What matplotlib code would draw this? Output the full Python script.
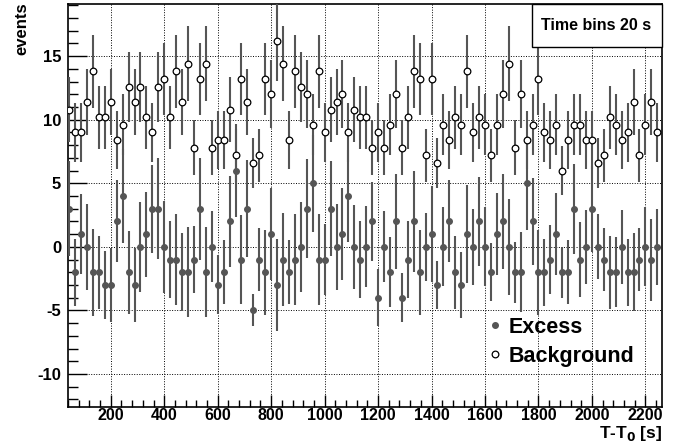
import numpy as np
import matplotlib
matplotlib.use("Agg")
import matplotlib.pyplot as plt
from matplotlib.ticker import MultipleLocator, FixedLocator
from matplotlib.lines import Line2D
from matplotlib.patches import Rectangle

plt.rcParams['font.family'] = ['Liberation Sans', 'DejaVu Sans']
plt.rcParams['axes.unicode_minus'] = False

# ---- data ----
excess = [3, -2, 1, 0, -2, -2, -3, -3, 2, 4, -2, -3, 0, 1, 3, 3, 0,
          -1, -1, -2, -2, -1, 3, -2, 0, -3, -2, 2, 6, -1, 3, -5, -1,
          -2, 1, -3, -1, -2, -1, 0, 3, 5, -1, -1, 3, 0, 1, 4, 0, -1,
          0, 2, -4, 0, -2, 2, -4, -1, 2, -2, 0, 1, -3, 0, 2, -2, -3,
          1, 0, 2, 0, -2, 1, 2, 0, -2, -2, 5, 2, -2, -2, -1, 1, -2,
          -2, 3, -1, 0, 3, 0, -1, -2, -2, 0, -2, -2, -1, 0, -1, 0]

background = [10.8, 9.0, 9.0, 11.4, 13.8, 10.2, 10.2, 11.4, 8.4, 9.6, 12.6, 11.4, 12.6, 10.2, 9.0, 12.6, 13.2,
              10.2, 13.8, 11.4, 14.4, 7.8, 13.2, 14.4, 7.8, 8.4, 8.4, 10.8, 7.2, 13.2, 11.4, 6.6, 7.2,
              13.2, 12.0, 16.2, 14.4, 8.4, 13.8, 12.6, 12.0, 9.6, 13.8, 9.0, 10.8, 11.4, 12.0, 9.0, 10.8, 10.2,
              10.2, 7.8, 9.0, 7.8, 9.6, 12.0, 7.8, 10.2, 13.8, 13.2, 7.2, 13.2, 6.6, 9.6, 8.4, 10.2, 9.6,
              13.8, 9.0, 10.2, 9.6, 7.2, 9.6, 12.0, 14.4, 7.8, 12.0, 8.4, 9.6, 13.2, 9.0, 8.4, 9.6, 6.0,
              8.4, 9.6, 9.6, 8.4, 8.4, 6.6, 7.2, 10.2, 9.6, 8.4, 9.0, 11.4, 7.2, 9.6, 11.4, 9.0]

t_first = 44.4        # centre of first bin [s]
t_step = 200.0 / 9.0  # spacing of points on the axis
alpha = 0.6           # on/off normalisation used for the error bars

x_major = [200, 400, 600, 800, 1000, 1200, 1400, 1600, 1800, 2000, 2200]
y_major = [-10, -5, 0, 5, 10, 15]

excess = np.array(excess, dtype=float)
background = np.array(background, dtype=float)
t = t_first + t_step * np.arange(len(excess))
excess_err = np.sqrt(np.maximum(excess + background, 1.0))
bkg_err = np.sqrt(alpha * background)

# ---- figure ----
W, H = 685, 443
fig = plt.figure(figsize=(W / 100, H / 100), dpi=100)
ax = fig.add_axes([68 / W, 1 - 407 / H, (662 - 68) / W, (407 - 4) / H])

grey = '#555555'
ax.errorbar(t, excess, yerr=excess_err, fmt='o', color=grey, ms=4.0,
            mec=grey, mfc=grey, elinewidth=1.5, capsize=0, zorder=3)
ax.errorbar(t, background, yerr=bkg_err, fmt='o', color=grey, ms=4.8,
            mec='black', mfc='white', mew=0.9, elinewidth=1.5, capsize=0, zorder=3)

ax.set_xlim(40, 2262)
ax.set_ylim(-12.6, 19.1)

ax.xaxis.set_major_locator(FixedLocator(x_major))
ax.xaxis.set_minor_locator(MultipleLocator(40))
ax.yaxis.set_major_locator(FixedLocator(y_major))
ax.yaxis.set_minor_locator(MultipleLocator(1))

ax.grid(True, which='major', color='black', linestyle=(0, (1, 1.6)), linewidth=0.7, zorder=1)
ax.set_axisbelow(True)

ax.tick_params(axis='x', which='major', direction='in', length=9, width=1.0, pad=1.0,
               labelsize=11.5, top=False)
ax.tick_params(axis='x', which='minor', direction='in', length=5, width=1.0, top=False)
ax.tick_params(axis='y', which='major', direction='in', length=14, width=1.0, pad=5,
               labelsize=12, right=False)
ax.tick_params(axis='y', which='minor', direction='in', length=7, width=1.0, right=False)
for lab in ax.get_xticklabels() + ax.get_yticklabels():
    lab.set_fontweight('bold')

for s in ax.spines.values():
    s.set_linewidth(1.2)
    s.set_color('black')

# axis titles
fig.text(22 / W, 1 - 2 / H, 'events', rotation=90, ha='center', va='top',
         fontsize=12, fontweight='bold')
fig.text(662 / W, 1 - 443 / H, r'T-T$_\mathbf{0}$ [s]', ha='right', va='bottom',
         fontsize=12.5, fontweight='bold')

# info box
fig.patches.append(Rectangle((532 / W, 1 - 47 / H), (662 - 532) / W, 43 / H,
                             transform=fig.transFigure, facecolor='white',
                             edgecolor='black', linewidth=1.0, zorder=5))
fig.text(596 / W, 1 - 25 / H, 'Time bins 20 s', ha='center', va='center',
         fontsize=11.5, fontweight='bold', zorder=6)

# legend
handles = [Line2D([], [], marker='o', ls='none', color=grey, ms=4.0, mfc=grey, mec=grey),
           Line2D([], [], marker='o', ls='none', ms=4.8, mfc='white', mec='black', mew=0.9)]
leg = ax.legend(handles, ['Excess', 'Background'], loc='upper left',
                bbox_to_anchor=(484 / W, 1 - 317 / H), bbox_transform=fig.transFigure,
                frameon=False, prop={'size': 15.5, 'weight': 'bold'},
                handletextpad=0.15, handlelength=1.0, labelspacing=0.35, borderpad=0,
                borderaxespad=0)

fig.savefig('out.png', dpi=100)
